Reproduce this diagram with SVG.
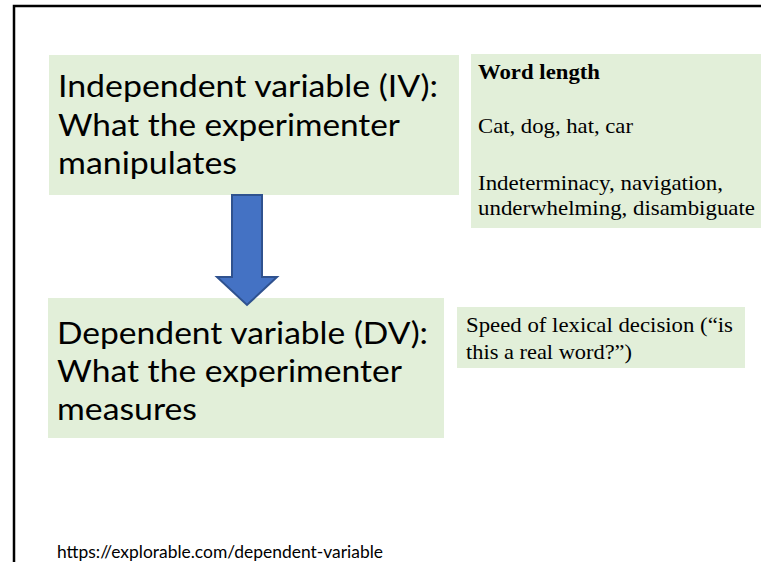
<svg xmlns="http://www.w3.org/2000/svg" width="761" height="562" viewBox="0 0 761 562">
<style>
.box{fill:#E2EFD9;}
.big{font-family:Lato,"Liberation Sans",sans-serif;font-size:31px;fill:#000;}
.ser{font-family:"Liberation Serif","Times New Roman",serif;font-size:21px;fill:#000;}
.url{font-family:Lato,"Liberation Sans",sans-serif;font-size:17px;fill:#000;}
</style>
<rect width="761" height="562" fill="#fff"/>
<g id="frame">
<path d="M14 562 V6 H761" fill="none" stroke="#000" stroke-width="2.5"/>
</g>
<g id="iv">
<rect class="box" x="49" y="55" width="410" height="140"/>
<text class="big" x="58" y="97" textLength="380" lengthAdjust="spacingAndGlyphs">Independent variable (IV):</text>
<text class="big" x="58" y="136" textLength="342" lengthAdjust="spacingAndGlyphs">What the experimenter</text>
<text class="big" x="58" y="174" textLength="179" lengthAdjust="spacingAndGlyphs">manipulates</text>
</g>
<g id="wordlength">
<rect class="box" x="471" y="54" width="290" height="174"/>
<text class="ser" x="478" y="79" font-weight="bold" textLength="122" lengthAdjust="spacingAndGlyphs">Word length</text>
<text class="ser" x="478" y="133" textLength="155" lengthAdjust="spacingAndGlyphs">Cat, dog, hat, car</text>
<text class="ser" x="478" y="190" textLength="245" lengthAdjust="spacingAndGlyphs">Indeterminacy, navigation,</text>
<text class="ser" x="478" y="215" textLength="277" lengthAdjust="spacingAndGlyphs">underwhelming, disambiguate</text>
</g>
<g id="dv">
<rect class="box" x="48" y="298" width="396" height="140"/>
<text class="big" x="57" y="344" textLength="371" lengthAdjust="spacingAndGlyphs">Dependent variable (DV):</text>
<text class="big" x="57" y="382" textLength="345" lengthAdjust="spacingAndGlyphs">What the experimenter</text>
<text class="big" x="57" y="420" textLength="140" lengthAdjust="spacingAndGlyphs">measures</text>
</g>
<g id="speed">
<rect class="box" x="457" y="307" width="288" height="61"/>
<text class="ser" x="466" y="332" textLength="267" lengthAdjust="spacingAndGlyphs">Speed of lexical decision (“is</text>
<text class="ser" x="466" y="359" textLength="166" lengthAdjust="spacingAndGlyphs">this a real word?”)</text>
</g>
<g id="connectors">
<path d="M232 195 H262 V277 H277 L247 305 L217 277 H232 Z" fill="#4472C4" stroke="#2F528F" stroke-width="2" stroke-linejoin="miter"/>
</g>
<g id="source">
<text class="url" x="57" y="558" textLength="326" lengthAdjust="spacingAndGlyphs">https://explorable.com/dependent-variable</text>
</g>
</svg>
